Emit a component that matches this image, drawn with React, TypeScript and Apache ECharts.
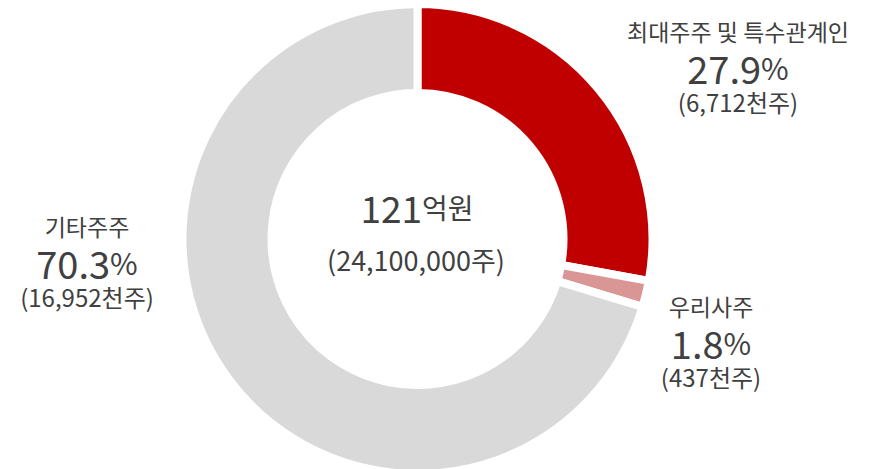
import React, { useEffect, useRef } from "react";
import * as echarts from "echarts";

const categories = ["최대주주 및 특수관계인", "우리사주", "기타주주"];
const sharesThousand = [6712, 437, 16952];
const percents = ["27.9", "1.8", "70.3"];
const colors = ["#C00000", "#D99694", "#D9D9D9"];
const centerAmount = "121";
const centerUnit = "억원";
const totalShares = "(24,100,000주)";

const labelPos = [
  { x: 738, y: 65 },
  { x: 711, y: 340 },
  { x: 87, y: 260 },
];

const FONT = '"Noto Sans CJK KR", "Noto Sans", sans-serif';
const TXT = "#404040";

export default function App() {
  const ref = useRef<HTMLDivElement>(null);
  useEffect(() => {
    if (!ref.current) return;
    const chart = echarts.init(ref.current, undefined, { renderer: "svg" });
    chart.setOption({
      animation: false,
      textStyle: { fontFamily: FONT },
      series: [
        {
          type: "pie",
          center: [417.5, 239],
          radius: [146, 235],
          startAngle: 90,
          clockwise: true,
          avoidLabelOverlap: false,
          itemStyle: { borderColor: "#ffffff", borderWidth: 8 },
          labelLine: { show: false },
          emphasis: { disabled: true },
          label: {
            show: true,
            position: "outside",
            fontFamily: FONT,
            color: TXT,
            align: "center",
            formatter: (p: any) => {
              const i = p.dataIndex;
              return `{name|${categories[i]}}\n{num|${percents[i]}}{pct|%}\n{sub|(${sharesThousand[i].toLocaleString("en-US")}천주)}`;
            },
            rich: {
              name: { fontSize: 23, lineHeight: 32, color: TXT, fontFamily: FONT, align: "center" },
              num: { fontSize: 38, lineHeight: 40, color: TXT, fontFamily: FONT },
              pct: { fontSize: 30, lineHeight: 40, color: TXT, fontFamily: FONT },
              sub: { fontSize: 24, lineHeight: 28, color: TXT, fontFamily: FONT, align: "center" },
            },
          },
          labelLayout: (params: any) => {
            const pos = labelPos[params.dataIndex];
            return { x: pos.x, y: pos.y, align: "center", verticalAlign: "middle", hideOverlap: false };
          },
          data: categories.map((name, i) => ({
            name,
            value: sharesThousand[i],
            itemStyle: { color: colors[i] },
          })),
        },
      ],
      graphic: [
        {
          type: "text",
          x: 417,
          y: 207,
          style: {
            text: `{a|${centerAmount}}{b|${centerUnit}}`,
            align: "center",
            verticalAlign: "middle",
            fill: TXT,
            rich: {
              a: { fontSize: 37, fontFamily: FONT, fill: TXT },
              b: { fontSize: 28, fontFamily: FONT, fill: TXT },
            },
          },
        },
        {
          type: "text",
          x: 416,
          y: 259,
          style: {
            text: totalShares,
            align: "center",
            verticalAlign: "middle",
            fontSize: 27,
            fontFamily: FONT,
            fill: TXT,
          },
        },
      ],
    });
    return () => chart.dispose();
  }, []);
  return (
    <div
      ref={ref}
      style={{ position: "absolute", left: 0, top: 0, width: 873, height: 469 }}
    />
  );
}
